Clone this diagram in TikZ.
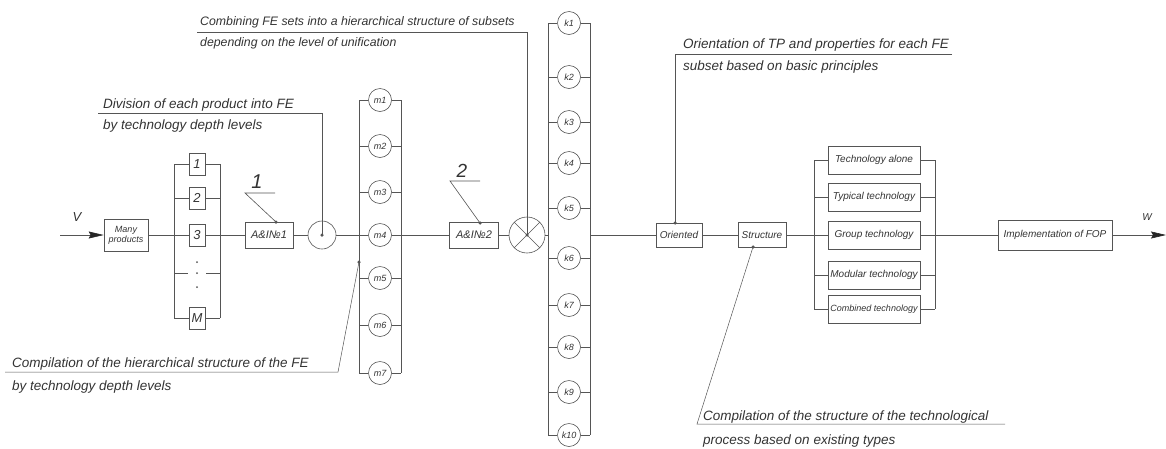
\documentclass[tikz,border=0pt]{standalone}
\usepackage{fontspec}
\setmainfont{Liberation Sans}
\usetikzlibrary{arrows.meta}
\definecolor{ln}{HTML}{555555}
\definecolor{tx}{HTML}{333333}
\begin{document}
\begin{tikzpicture}[x=1pt,y=-1pt,
  wire/.style={draw=ln,line width=0.6pt},
  box/.style={draw=ln,line width=0.7pt,rectangle,inner sep=1pt,text=tx,font=\fontsize{10}{11}\selectfont\itshape,align=center},
  numbox/.style={box,minimum width=16pt,minimum height=22pt,font=\fontsize{13}{13}\selectfont\itshape},
  ring/.style={draw=ln,line width=0.6pt,circle,minimum size=23pt,inner sep=0pt,text=tx,font=\fontsize{9}{9}\selectfont\itshape},
  techbox/.style={box,minimum width=92pt,minimum height=28pt},
  note/.style={anchor=base west,inner sep=0pt,text=tx,font=\fontsize{13.5}{14}\selectfont\itshape},
  pin/.style={circle,fill=ln,inner sep=0pt,minimum size=3.5pt},
  tip/.style={-{Stealth[length=15pt,width=7pt,inset=2pt,fill=black!85,color=black!85]}}
]
\useasboundingbox (0,0) rectangle (1166,448);

% input
\coordinate (vin) at (60,235);
\node[box,minimum width=44pt,minimum height=32pt,font=\fontsize{9}{10}\selectfont\itshape] (many) at (126,235) {Many\\products};
\draw[wire,tip] (vin) -- (many.west);
\node[text=tx,font=\fontsize{13}{13}\selectfont\itshape] (vlab) at (77,217) {V};

% numbered boxes
\foreach \n/\y/\t in {1/164/1,2/198/2,3/235/3,M/318/M} {
  \node[numbox] (n\n) at (197,\y) {\t};
  \coordinate (nl\n) at (174,\y); \coordinate (nr\n) at (220,\y);
  \draw[wire] (nl\n) -- (n\n.west) (n\n.east) -- (nr\n);
}
\draw[wire] (nl1) -- (nlM) (nr1) -- (nrM);
\foreach \y [count=\i] in {262,273,287} \node[pin,minimum size=2pt] (dd\i) at (197,\y) {};
\coordinate (nld) at (174,273); \coordinate (nrd) at (220,273);
\draw[wire] (nld) -- ++(14,0) (nrd) -- ++(-14,0);
\draw[wire] (many.east) -- (nl3);

% A&I 1
\node[box,minimum width=48pt,minimum height=26pt,font=\fontsize{11}{11}\selectfont\itshape] (a1) at (269,235) {A\&I№1};
\draw[wire] (nr3) -- (a1.west);
\node[text=tx,font=\fontsize{20}{20}\selectfont\itshape] (lab1) at (257,182) {1};
\coordinate (u1a) at (245,193); \coordinate (u1b) at (275,193);
\coordinate (p1) at (276,222);
\draw[wire] (u1b) -- (u1a) -- (p1);
\node[pin] at (p1) {};

% circle with dot
\node[draw=ln,line width=0.6pt,circle,minimum size=28pt,inner sep=0pt] (c1) at (322,235) {};
\draw[wire] (a1.east) -- (c1.west);
\node[pin] at (c1.center) {};

% m group
\foreach \i/\y in {1/100,2/146,3/192,4/235,5/278,6/325,7/373} {
  \node[ring] (m\i) at (380,\y) {m\i};
  \coordinate (ml\i) at (359,\y); \coordinate (mr\i) at (401,\y);
  \draw[wire] (ml\i) -- (m\i.west) (m\i.east) -- (mr\i);
}
\draw[wire] (ml1) -- (ml7) (mr1) -- (mr7);
\draw[wire] (c1.east) -- (ml4);

% A&I 2
\node[box,minimum width=49pt,minimum height=26pt,font=\fontsize{11}{11}\selectfont\itshape] (a2) at (474,235) {A\&I№2};
\draw[wire] (mr4) -- (a2.west);
\node[text=tx,font=\fontsize{19}{19}\selectfont\itshape] (lab2) at (462,171) {2};
\coordinate (u2a) at (450,181); \coordinate (u2b) at (480,181);
\coordinate (p2) at (480,223);
\draw[wire] (u2b) -- (u2a) -- (p2);
\node[pin] at (p2) {};

% crossed circle
\node[draw=ln,line width=0.6pt,circle,minimum size=36pt,inner sep=0pt] (X) at (527,235) {};
\draw[wire] (X.north east) -- (X.south west) (X.north west) -- (X.south east);
\draw[wire] (a2.east) -- (X.west);
\node[pin] at (X.center) {};

% k group
\foreach \i/\y in {1/23,2/77,3/122,4/163,5/208,6/258,7/305,8/347,9/392,10/435} {
  \node[ring] (k\i) at (569,\y) {k\i};
  \coordinate (kl\i) at (548,\y); \coordinate (kr\i) at (590,\y);
  \draw[wire] (kl\i) -- (k\i.west) (k\i.east) -- (kr\i);
}
\draw[wire] (kl1) -- (kl10) (kr1) -- (kr10);
\coordinate (kin) at (548,235); \coordinate (kout) at (590,235);
\draw[wire] (X.east) -- (kin);

% oriented / structure
\node[box,minimum width=46pt,minimum height=24pt] (orient) at (679,235) {Oriented};
\node[box,minimum width=48pt,minimum height=25pt] (struct) at (762,235) {Structure};
\draw[wire] (kout) -- (orient.west);
\draw[wire] (orient.east) -- (struct.west);

% technology group
\foreach \i/\y/\t in {1/160/Technology alone,2/197/Typical technology,3/235/Group technology,4/275/Modular technology} {
  \node[techbox] (t\i) at (874,\y) {\t};
}
\node[techbox,font=\fontsize{9}{9}\selectfont\itshape] (t5) at (874,309) {Combined technology};
\foreach \i/\y in {1/160,2/197,3/235,4/275,5/309} {
  \coordinate (tl\i) at (814,\y); \coordinate (tr\i) at (935,\y);
  \draw[wire] (tl\i) -- (t\i.west) (t\i.east) -- (tr\i);
}
\draw[wire,line width=0.9pt] (tl1) -- (tl5) (tr1) -- (tr5);
\draw[wire] (struct.east) -- (tl3);

% implementation
\node[box,minimum width=114pt,minimum height=30pt] (impl) at (1055,235) {Implementation of FOP};
\draw[wire] (tr3) -- (impl.west);
\coordinate (wout) at (1166,235);
\draw[wire,tip] (impl.east) -- (wout);
\node[text=tx,font=\fontsize{10}{10}\selectfont\itshape] (wlab) at (1147,217) {W};

% annotation: division
\node[note] (d1) at (103,108) {Division of each product into FE};
\node[note] (d2) at (103,129) {by technology depth levels};
\coordinate (du) at (98,113);
\draw[wire] (du) -| (c1.center);

% annotation: combining
\node[note,font=\fontsize{12.3}{12}\selectfont\itshape] (cb1) at (200,25) {Combining FE sets into a hierarchical structure of subsets};
\node[note,font=\fontsize{12.3}{12}\selectfont\itshape] (cb2) at (200,46) {depending on the level of unification};
\coordinate (cu) at (197,32);
\draw[wire] (cu) -| (X.center);

% annotation: orientation
\node[note] (o1) at (683,48) {Orientation of TP and properties for each FE};
\node[note] (o2) at (683,70) {subset based on basic principles};
\coordinate (ou1) at (675,54); \coordinate (ou2) at (952,54);
\coordinate (op) at (675,223);
\draw[wire] (ou2) -- (ou1) -- (op);
\node[pin] at (op) {};

% annotation: compilation hierarchical
\node[note] (h1) at (12,367) {Compilation of the hierarchical structure of the FE};
\node[note] (h2) at (12,390) {by technology depth levels};
\coordinate (hp) at (359,262);
\coordinate (hu1) at (338,372); \coordinate (hu2) at (5,372);
\draw[wire,line width=0.5pt] (hp) -- (hu1) -- (hu2);
\node[pin] at (hp) {};

% annotation: compilation structure
\node[note] (s1) at (703,420) {Compilation of the structure of the technological};
\node[note] (s2) at (703,444) {process based on existing types};
\coordinate (sp) at (753,247);
\coordinate (su1) at (697,424); \coordinate (su2) at (1005,424);
\draw[wire,line width=0.5pt] (sp) -- (su1) -- (su2);
\node[pin] at (sp) {};
\end{tikzpicture}
\end{document}
